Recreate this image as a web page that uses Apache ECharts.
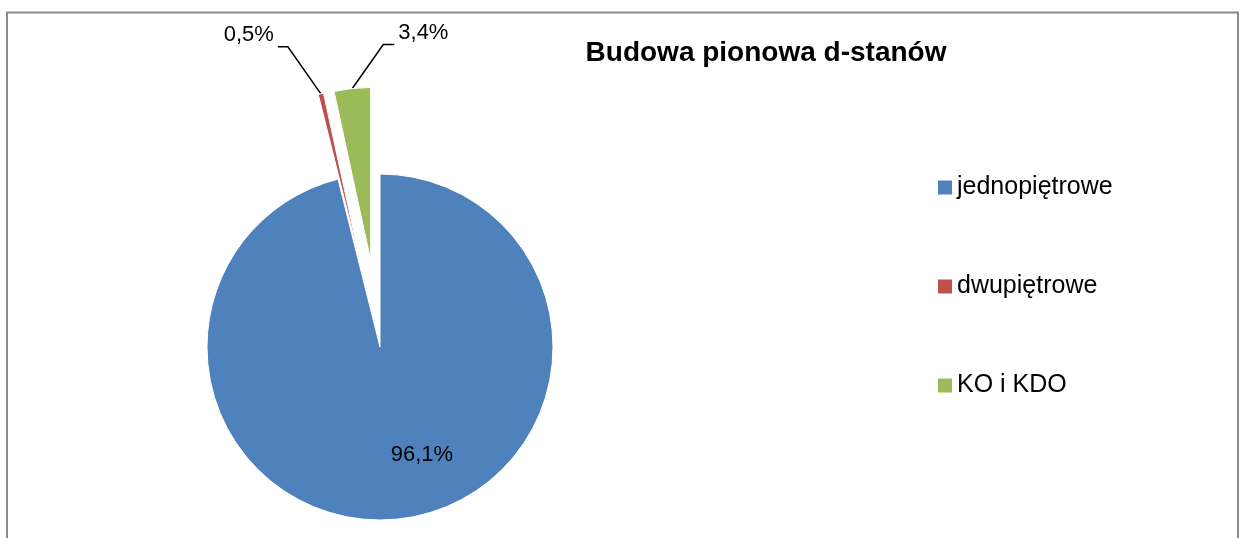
<!DOCTYPE html>
<html>
<head>
<meta charset="utf-8">
<script src="https://cdn.jsdelivr.net/npm/echarts@6/dist/echarts.min.js"></script>
<style>
html,body{margin:0;padding:0;background:#fff;}
#chart{width:1240px;height:538px;}
</style>
</head>
<body>
<div id="chart"></div>
<script>
const titleText = 'Budowa pionowa d-stanów';
const categories = ['jednopiętrowe', 'dwupiętrowe', 'KO i KDO'];
const values = [96.1, 0.5, 3.4];
const colors = ['#4F81BD', '#C0504D', '#9BBB59'];
const exploded = [false, true, true];

const FONT = '"Liberation Sans", Arial, sans-serif';
const CX = 380, CY = 347, R = 173, EXPLODE = 87;
const chart = echarts.init(document.getElementById('chart'), null, {renderer: 'canvas'});

function fmt(v) { return v.toFixed(1).replace('.', ',') + '%'; }

const total = values.reduce((a, b) => a + b, 0);
let cum = 0;
const midAngles = values.map(v => { const m = (cum + v / 2) / total * 2 * Math.PI; cum += v; return m; });

// label placement relative to the library's label-line start point
const labelPlace = [
  null,
  {line: [[-33, -47], [-43, -47]], text: [-47, -59], align: 'right'},
  {line: [[31, -44], [42, -44]], text: [46, -56], align: 'left'}
];

const series = categories.map((name, i) => {
  const off = exploded[i] ? EXPLODE : 0;
  const center = [CX + off * Math.sin(midAngles[i]), CY - off * Math.cos(midAngles[i])];
  return {
    type: 'pie',
    name: 'Budowa',
    center: center,
    radius: R,
    startAngle: 90,
    clockwise: true,
    avoidLabelOverlap: false,
    selectedMode: false,
    emphasis: {disabled: true},
    label: {
      show: true,
      position: i === 0 ? 'inside' : 'outside',
      formatter: p => fmt(p.value),
      fontFamily: FONT, fontSize: 22, color: '#000'
    },
    labelLine: {show: i !== 0, length: 45, length2: 10, lineStyle: {color: '#000', width: 1.5}},
    labelLayout: function (p) {
      const pl = labelPlace[p.dataIndex];
      if (p.dataIndex !== i || !pl || !p.labelLinePoints) return {};
      const s = p.labelLinePoints[0];
      return {
        x: s[0] + pl.text[0], y: s[1] + pl.text[1], align: pl.align, verticalAlign: 'middle',
        labelLinePoints: [s, [s[0] + pl.line[0][0], s[1] + pl.line[0][1]], [s[0] + pl.line[1][0], s[1] + pl.line[1][1]]]
      };
    },
    data: categories.map((c, j) => ({
      name: c,
      value: values[j],
      itemStyle: j === i
        ? {color: colors[j], borderColor: '#fff', borderWidth: 1}
        : {color: 'rgba(0,0,0,0)', borderWidth: 0},
      label: j === i ? (j === 0 ? {offset: [31, 19]} : {}) : {show: false},
      labelLine: j === i ? {} : {show: false}
    }))
  };
});

const option = {
  animation: false,
  backgroundColor: '#fff',
  graphic: [{
    type: 'rect', silent: true, z: -1,
    shape: {x: 7, y: 12.5, width: 1231, height: 600},
    style: {fill: 'none', stroke: '#8a8a8a', lineWidth: 2}
  }],
  title: {
    text: titleText,
    left: 766, top: 39, textAlign: 'center', padding: 0,
    textStyle: {fontFamily: FONT, fontWeight: 'bold', fontSize: 28, color: '#000'}
  },
  legend: {
    orient: 'vertical',
    left: 938, top: 175, padding: 0,
    itemWidth: 14, itemHeight: 14, itemGap: 74,
    icon: 'rect',
    data: categories.map((c, i) => ({name: c, itemStyle: {color: colors[i], borderWidth: 0}})),
    textStyle: {fontFamily: FONT, fontSize: 25, lineHeight: 25, color: '#000'},
    selectedMode: false
  },
  series: series
};
chart.setOption(option);
</script>
</body>
</html>
